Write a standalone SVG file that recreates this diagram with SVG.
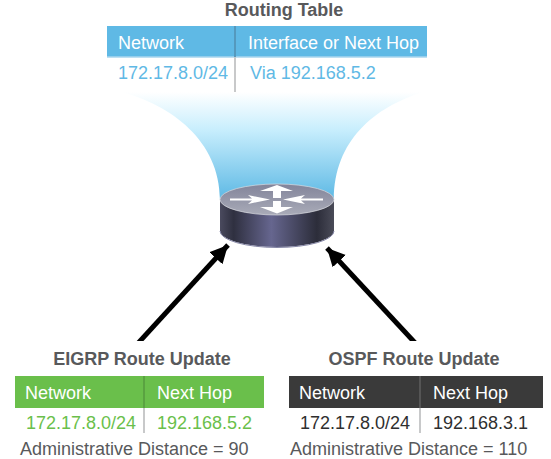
<svg xmlns="http://www.w3.org/2000/svg" width="551" height="459" viewBox="0 0 551 459">
<style>
text{font-family:"Liberation Sans",Arial,sans-serif;font-size:18px}
.t{font-weight:bold;fill:#58595b;text-anchor:middle}
.h{fill:#fff}
.k{fill:#2f2f2f}
.g{fill:#6abf4b}
.b{fill:#5fb9e5}
.n{fill:#58595b}
.div{stroke:#c8c9ca;stroke-width:2}
.arrow{stroke:#000;stroke-width:5;fill:none;marker-end:url(#ah)}
</style>
<defs>
<marker id="ah" markerUnits="userSpaceOnUse" markerWidth="24" markerHeight="24" refX="18" refY="10" orient="auto"><path d="M0 1L18 10L0 19L0 1Z" fill="#000"/></marker>
<clipPath id="cut"><rect x="0" y="200" width="551" height="141"/></clipPath>
<linearGradient id="fun" x1="0" y1="0" x2="0" y2="1"><stop offset="0" stop-color="#fff"/><stop offset=".35" stop-color="#c8eefd"/><stop offset="1" stop-color="#5cb8e4"/></linearGradient>
<linearGradient id="side" x1="0" y1="0" x2="1" y2="0"><stop offset="0" stop-color="#4a4a5e"/><stop offset=".12" stop-color="#2f3040"/><stop offset=".45" stop-color="#66668f"/><stop offset=".85" stop-color="#2c2d3a"/><stop offset="1" stop-color="#4a4b58"/></linearGradient>
<linearGradient id="top" x1="0" y1="0" x2="0" y2="1"><stop offset="0" stop-color="#82849a"/><stop offset="1" stop-color="#a9abb8"/></linearGradient>
</defs>
<g id="funnel"><path d="M122 92C170 105 220 140 220 200L334 200C334 140 375 107 423 92Z" fill="url(#fun)"/></g>
<g id="routing-table">
<text class="t" x="284" y="16">Routing Table</text>
<rect x="107" y="26" width="320" height="31" class="b"/>
<line x1="107" y1="57" x2="427" y2="57" stroke="#a9d6ee" stroke-width="1.500"/>
<line x1="235" y1="26" x2="235" y2="57" stroke="#5499bd" stroke-width="2"/>
<line x1="235" y1="57" x2="235" y2="92" class="div"/>
<text class="h" x="118" y="49">Network</text>
<text class="h" x="248" y="49">Interface or Next Hop</text>
<text class="b" x="118" y="79">172.17.8.0/24</text>
<text class="b" x="250" y="79">Via 192.168.5.2</text>
</g>
<g id="router">
<path d="M220 199.500L220 230.500A57 16.500 0 0 0 334 230.500L334 199.500Z" fill="url(#side)"/>
<path d="M220 231A57 16.500 0 0 0 334 231" fill="none" stroke="#8485a5" stroke-width="1"/>
<ellipse cx="277" cy="199.500" rx="57" ry="15.500" fill="url(#top)" stroke="#d9dae0" stroke-width=".7"/>
<path d="M230 198.500H252L248 195L270 199.500L248 204L252 200.500H230Z M323 198.500H301L305 195L283 199.500L305 204L301 200.500H323Z" fill="#fff"/>
<path d="M260 191L277 185L293 191H281V198H273V191Z M260 207L277 213.500L293 207H281V201H273V207Z" fill="#fff"/>
</g>
<g id="connectors" clip-path="url(#cut)">
<line class="arrow" x1="135.500" y1="346" x2="228" y2="245"/>
<line class="arrow" x1="418" y1="346" x2="327" y2="248"/>
</g>
<g id="eigrp">
<text class="t" x="142" y="365">EIGRP Route Update</text>
<rect x="15" y="376" width="249" height="32" class="g"/>
<line x1="144" y1="376" x2="144" y2="408" stroke="#5aa341" stroke-width="2"/>
<line x1="144" y1="408" x2="144" y2="433" class="div"/>
<text class="h" x="25" y="399">Network</text>
<text class="h" x="157" y="399">Next Hop</text>
<text class="g" x="26" y="429">172.17.8.0/24</text>
<text class="g" x="157" y="429">192.168.5.2</text>
<text class="n" x="20" y="455">Administrative Distance = 90</text>
</g>
<g id="ospf">
<text class="t" x="414" y="365">OSPF Route Update</text>
<rect x="289" y="376" width="254" height="32" fill="#3a3a3a"/>
<line x1="420" y1="376" x2="420" y2="408" stroke="#555" stroke-width="2"/>
<line x1="420" y1="408" x2="420" y2="433" class="div"/>
<text class="h" x="299" y="399">Network</text>
<text class="h" x="433" y="399">Next Hop</text>
<text class="k" x="300" y="429">172.17.8.0/24</text>
<text class="k" x="433" y="429">192.168.3.1</text>
<text class="n" x="290" y="455">Administrative Distance = 110</text>
</g>
</svg>
